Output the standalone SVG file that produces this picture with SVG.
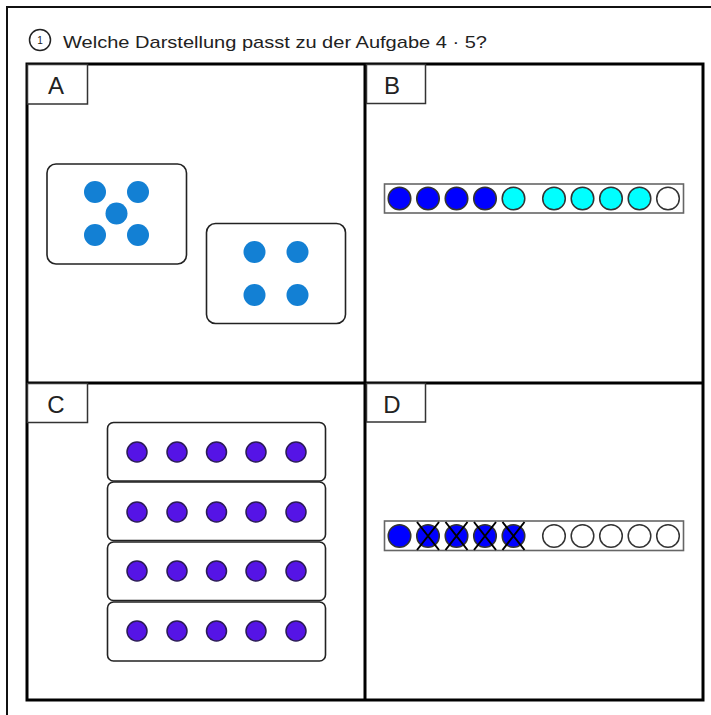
<svg xmlns="http://www.w3.org/2000/svg" width="711" height="715" viewBox="0 0 711 715">
<style>
.frame{fill:none;stroke:#111;stroke-width:2}
.grid{fill:none;stroke:#000;stroke-width:3}
.lbl{fill:#fff;stroke:#333;stroke-width:1.5}
.lt{font-family:"Liberation Sans",Arial,sans-serif;font-size:24px;fill:#222;text-anchor:middle}
.title{font-family:"Liberation Sans",Arial,sans-serif;font-size:17px;fill:#222}
.card{fill:#fff;stroke:#222;stroke-width:1.6}
.dA{fill:#1380d4}
.dC{fill:#5514e6;stroke:#2a1a55;stroke-width:1.5}
.bar{fill:#fff;stroke:#666;stroke-width:1.6}
.bb{stroke:#333;stroke-width:1.5}
.x{stroke:#000;stroke-width:2}
</style>
<rect x="0" y="0" width="711" height="715" fill="#fff"/>
<path class="frame" d="M7,715 V7 H711"/>
<g id="title">
<circle cx="40" cy="40" r="10.5" fill="#fff" stroke="#222" stroke-width="1.5"/>
<text x="40" y="44" font-family="Liberation Sans,Arial,sans-serif" font-size="10" text-anchor="middle" fill="#222">1</text>
<text class="title" x="63" y="48" textLength="424" lengthAdjust="spacingAndGlyphs">Welche Darstellung passt zu der Aufgabe 4 · 5?</text>
</g>
<g id="grid">
<rect class="grid" x="27" y="64" width="676" height="636"/>
<line class="grid" x1="365" y1="64" x2="365" y2="700"/>
<line class="grid" x1="27" y1="383" x2="703" y2="383"/>
</g>
<g id="panelA">
<rect class="lbl" x="27.5" y="64.5" width="60" height="39.5"/>
<text class="lt" x="56" y="94">A</text>
<rect class="card" x="47" y="164" width="139.5" height="100" rx="9"/>
<circle class="dA" cx="95" cy="192" r="11"/>
<circle class="dA" cx="138" cy="192" r="11"/>
<circle class="dA" cx="116.5" cy="213.5" r="11"/>
<circle class="dA" cx="95" cy="235" r="11"/>
<circle class="dA" cx="138" cy="235" r="11"/>
<rect class="card" x="206.5" y="223.5" width="139" height="100" rx="9"/>
<circle class="dA" cx="254.5" cy="252" r="11"/>
<circle class="dA" cx="297.5" cy="252" r="11"/>
<circle class="dA" cx="254.5" cy="295" r="11"/>
<circle class="dA" cx="297.5" cy="295" r="11"/>
</g>
<g id="panelB">
<rect class="lbl" x="366.5" y="64.5" width="59" height="39"/>
<text class="lt" x="392" y="94">B</text>
<rect class="bar" x="384.5" y="184" width="299" height="29"/>
<g class="bb">
<circle cx="399.5" cy="198.5" r="11.3" fill="#0000ff"/>
<circle cx="428" cy="198.5" r="11.3" fill="#0000ff"/>
<circle cx="456.5" cy="198.5" r="11.3" fill="#0000ff"/>
<circle cx="485" cy="198.5" r="11.3" fill="#0000ff"/>
<circle cx="513.5" cy="198.5" r="11.3" fill="#00ffff"/>
<circle cx="554" cy="198.5" r="11.3" fill="#00ffff"/>
<circle cx="582.5" cy="198.5" r="11.3" fill="#00ffff"/>
<circle cx="611" cy="198.5" r="11.3" fill="#00ffff"/>
<circle cx="639.5" cy="198.5" r="11.3" fill="#00ffff"/>
<circle cx="668" cy="198.5" r="11.3" fill="#fff"/>
</g>
</g>
<g id="panelC">
<rect class="lbl" x="27.5" y="383.5" width="60" height="39"/>
<text class="lt" x="56" y="413">C</text>
<rect class="card" x="107.5" y="422.5" width="218" height="58.5" rx="6"/>
<rect class="card" x="107.5" y="482" width="218" height="58.5" rx="6"/>
<rect class="card" x="107.5" y="542" width="218" height="58.5" rx="6"/>
<rect class="card" x="107.5" y="602" width="218" height="59" rx="6"/>
<g>
<circle class="dC" cx="137" cy="452" r="10"/><circle class="dC" cx="177" cy="452" r="10"/><circle class="dC" cx="216.5" cy="452" r="10"/><circle class="dC" cx="256" cy="452" r="10"/><circle class="dC" cx="296" cy="452" r="10"/>
<circle class="dC" cx="137" cy="512" r="10"/><circle class="dC" cx="177" cy="512" r="10"/><circle class="dC" cx="216.5" cy="512" r="10"/><circle class="dC" cx="256" cy="512" r="10"/><circle class="dC" cx="296" cy="512" r="10"/>
<circle class="dC" cx="137" cy="571" r="10"/><circle class="dC" cx="177" cy="571" r="10"/><circle class="dC" cx="216.5" cy="571" r="10"/><circle class="dC" cx="256" cy="571" r="10"/><circle class="dC" cx="296" cy="571" r="10"/>
<circle class="dC" cx="137" cy="631" r="10"/><circle class="dC" cx="177" cy="631" r="10"/><circle class="dC" cx="216.5" cy="631" r="10"/><circle class="dC" cx="256" cy="631" r="10"/><circle class="dC" cx="296" cy="631" r="10"/>
</g>
</g>
<g id="panelD">
<rect class="lbl" x="366.5" y="383.5" width="59" height="38.5"/>
<text class="lt" x="392" y="413">D</text>
<rect class="bar" x="384.5" y="521" width="299" height="29.5"/>
<g class="bb">
<circle cx="399.5" cy="536" r="11.3" fill="#0000ff"/>
<circle cx="428" cy="536" r="11.3" fill="#0000ff"/>
<circle cx="456.5" cy="536" r="11.3" fill="#0000ff"/>
<circle cx="485" cy="536" r="11.3" fill="#0000ff"/>
<circle cx="513.5" cy="536" r="11.3" fill="#0000ff"/>
<circle cx="554" cy="536" r="11.3" fill="#fff"/>
<circle cx="582.5" cy="536" r="11.3" fill="#fff"/>
<circle cx="611" cy="536" r="11.3" fill="#fff"/>
<circle cx="639.5" cy="536" r="11.3" fill="#fff"/>
<circle cx="668" cy="536" r="11.3" fill="#fff"/>
</g>
<g class="x">
<path d="M417,522 L439,550 M439,522 L417,550"/>
<path d="M445.5,522 L467.5,550 M467.5,522 L445.5,550"/>
<path d="M474,522 L496,550 M496,522 L474,550"/>
<path d="M502.5,522 L524.5,550 M524.5,522 L502.5,550"/>
</g>
</g>
</svg>
